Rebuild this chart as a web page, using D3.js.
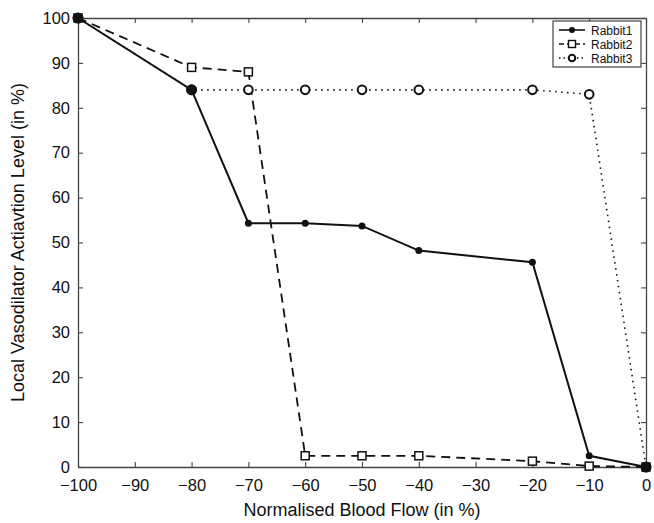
<!DOCTYPE html>
<html>
<head>
<meta charset="utf-8">
<script src="https://cdn.jsdelivr.net/npm/d3@7"></script>
<style>
  body { margin: 0; background: #fff; }
  text { font-family: "Liberation Sans", Arial, sans-serif; fill: #111; }
</style>
</head>
<body>
<svg id="Diagram"></svg>
<script>
// data
var flow = [-100, -80, -70, -60, -50, -40, -20, -10, 0];
var rabbit1 = [100, 84, 54.3, 54.3, 53.7, 48.2, 45.6, 2.5, 0];
var rabbit2 = [100, 89, 88, 2.5, 2.5, 2.5, 1.3, 0.2, 0];
var rabbit3 = [100, 84, 84, 84, 84, 84, 84, 83, 0];
var xTicks = [-100, -90, -80, -70, -60, -50, -40, -30, -20, -10, 0];
var yTicks = [0, 10, 20, 30, 40, 50, 60, 70, 80, 90, 100];
var seriesNames = ["Rabbit1", "Rabbit2", "Rabbit3"];

var W = 654, H = 523;
var margin = {left: 78, right: 8, top: 18, bottom: 56};
var width = W - margin.left - margin.right,
    height = H - margin.top - margin.bottom;

var svg = d3.select("#Diagram").attr("width", W).attr("height", H);
var g = svg.append("g").attr("transform", "translate(" + margin.left + "," + margin.top + ")");

var x = d3.scaleLinear().domain([-100, 0]).range([0, width]);
var y = d3.scaleLinear().domain([0, 100]).range([height, 0]);

var fmt = function(d) { return d < 0 ? "\u2212" + Math.abs(d) : d; };

// axes, ticks pointing inward, box on
g.append("g").attr("transform", "translate(0," + height + ")")
  .call(d3.axisBottom(x).tickValues(xTicks).tickSizeInner(-5).tickSizeOuter(0).tickPadding(12).tickFormat(fmt));
g.append("g")
  .call(d3.axisLeft(y).tickValues(yTicks).tickSizeInner(-5).tickSizeOuter(0).tickPadding(8).tickFormat(fmt));
g.append("g")
  .call(d3.axisTop(x).tickValues(xTicks).tickSizeInner(-5).tickSizeOuter(0).tickFormat(""));
g.append("g").attr("transform", "translate(" + width + ",0)")
  .call(d3.axisRight(y).tickValues(yTicks).tickSizeInner(-5).tickSizeOuter(0).tickFormat(""));

g.selectAll(".domain").attr("stroke", "#444").attr("stroke-width", 1.3);
g.selectAll(".tick line").attr("stroke", "#444").attr("stroke-width", 1.1);
g.selectAll(".tick text").style("font-size", "16.5px").attr("fill", "#111");

// axis titles
svg.append("text")
  .attr("x", margin.left + width / 2).attr("y", 516)
  .attr("text-anchor", "middle").style("font-size", "18px")
  .text("Normalised Blood Flow (in %)");
svg.append("text")
  .attr("transform", "translate(24," + (margin.top + height / 2) + ") rotate(-90)")
  .attr("text-anchor", "middle").style("font-size", "18px")
  .text("Local Vasodilator Actiavtion Level (in %)");

var line = d3.line().x(function(d) { return x(d[0]); }).y(function(d) { return y(d[1]); });
var zip = function(vals) { return flow.map(function(f, i) { return [f, vals[i]]; }); };

// Rabbit3 dotted
g.append("path").datum(zip(rabbit3)).attr("d", line)
  .attr("fill", "none").attr("stroke", "#111").attr("stroke-width", 1.6)
  .attr("stroke-dasharray", "1.5,4.5");
// Rabbit2 dashed
g.append("path").datum(zip(rabbit2)).attr("d", line)
  .attr("fill", "none").attr("stroke", "#111").attr("stroke-width", 1.8)
  .attr("stroke-dasharray", "9,6");
// Rabbit1 solid
g.append("path").datum(zip(rabbit1)).attr("d", line)
  .attr("fill", "none").attr("stroke", "#111").attr("stroke-width", 2);

// markers
g.selectAll(".m3").data(zip(rabbit3)).enter().append("circle")
  .attr("cx", function(d) { return x(d[0]); }).attr("cy", function(d) { return y(d[1]); })
  .attr("r", 4.3).attr("fill", "#fff").attr("stroke", "#111").attr("stroke-width", 2);
g.selectAll(".m2").data(zip(rabbit2)).enter().append("rect")
  .attr("x", function(d) { return x(d[0]) - 4; }).attr("y", function(d) { return y(d[1]) - 4; })
  .attr("width", 8).attr("height", 8).attr("fill", "#fff").attr("stroke", "#111").attr("stroke-width", 1.5);
g.selectAll(".m1").data(zip(rabbit1)).enter().append("circle")
  .attr("cx", function(d) { return x(d[0]); }).attr("cy", function(d) { return y(d[1]); })
  .attr("r", 3.5).attr("fill", "#111");
// end points look heavier where all three overlap
g.selectAll(".mend").data([zip(rabbit1)[0], zip(rabbit1)[1], zip(rabbit1)[8]]).enter().append("circle")
  .attr("cx", function(d) { return x(d[0]); }).attr("cy", function(d) { return y(d[1]); })
  .attr("r", 5.5).attr("fill", "#111");

// legend
var lg = svg.append("g").attr("transform", "translate(553,21)");
lg.append("rect").attr("width", 88).attr("height", 46)
  .attr("fill", "#fff").attr("stroke", "#444").attr("stroke-width", 1.2);
var dashes = [null, "5,3", "1.5,3"];
seriesNames.forEach(function(name, i) {
  var yy = 9 + i * 14;
  lg.append("line").attr("x1", 6).attr("x2", 32).attr("y1", yy).attr("y2", yy)
    .attr("stroke", "#111").attr("stroke-width", 1.6).attr("stroke-dasharray", dashes[i]);
  if (i === 0) lg.append("circle").attr("cx", 19).attr("cy", yy).attr("r", 3).attr("fill", "#111");
  if (i === 1) lg.append("rect").attr("x", 15.5).attr("y", yy - 3.5).attr("width", 7).attr("height", 7)
    .attr("fill", "#fff").attr("stroke", "#111").attr("stroke-width", 1.4);
  if (i === 2) lg.append("circle").attr("cx", 19).attr("cy", yy).attr("r", 3.3)
    .attr("fill", "#fff").attr("stroke", "#111").attr("stroke-width", 2);
  lg.append("text").attr("x", 38).attr("y", yy + 4.5).style("font-size", "12px").text(name);
});
</script>
</body>
</html>
